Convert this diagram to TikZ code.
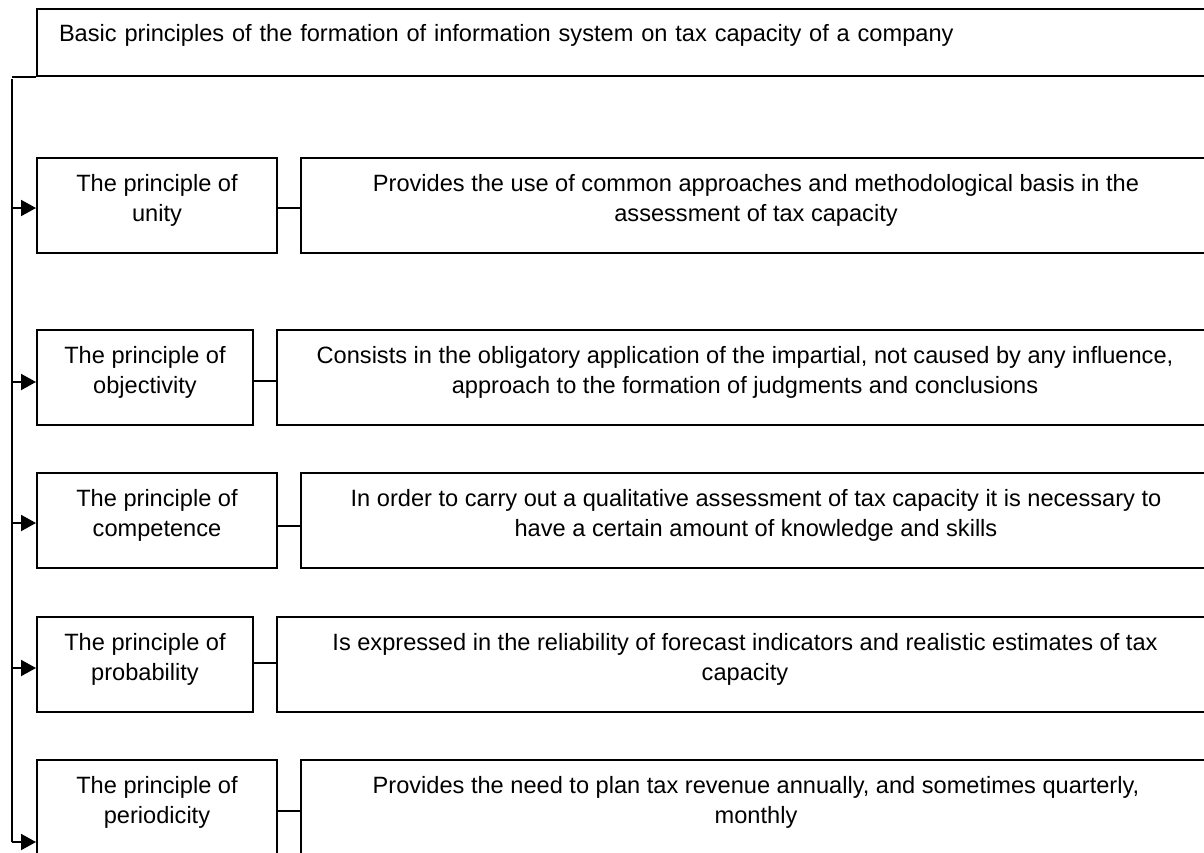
\documentclass[tikz,border=0pt]{standalone}
\usepackage{fontspec}
\setmainfont{Liberation Sans}
\usetikzlibrary{positioning,arrows.meta}
\tikzset{
	pbox/.style={draw, line width=1pt, align=center, inner sep=0pt, anchor=north west,
		minimum width=#1, minimum height=47.5pt, text height=31.5pt, text depth=16pt,
		font=\fontsize{11.8pt}{15pt}\selectfont},
	arr/.style={line width=1pt, -{Triangle[length=7.5pt,width=8pt]}},
	link/.style={line width=0.8pt}
}

\begin{document}
\begin{tikzpicture}[x=0.5pt, y=-0.5pt]
		\clip (0,0) rectangle (1204,852);
		
		% heading
		\node[draw, line width=1pt, anchor=north west, inner xsep=11pt, inner ysep=0pt,
			text width=580pt, align=left, minimum height=33.5pt, text height=16pt, text depth=17.5pt,
			font=\fontsize{11.8pt}{15pt}\selectfont] (head) at (36,8)
			{Basic principles of the formation of information system on tax capacity of a company};
		
		% principles
		\node[pbox=120pt] (p1) at (36,157) {The principle of\\unity};
		\node[pbox=108pt] (p2) at (36,329) {The principle of\\objectivity};
		\node[pbox=120pt] (p3) at (36,472) {The principle of\\competence};
		\node[pbox=108pt] (p4) at (36,616) {The principle of\\probability};
		\node[pbox=120pt] (p5) at (36,759) {The principle of\\periodicity};
		
		% descriptions
		\node[pbox=455pt] (d1) at (300,157) {Provides the use of common approaches and methodological basis in the\\assessment of tax capacity};
		\node[pbox=468pt] (d2) at (276,329) {Consists in the obligatory application of the impartial, not caused by any influence,\\approach to the formation of judgments and conclusions};
		\node[pbox=455pt] (d3) at (300,472) {In order to carry out a qualitative assessment of tax capacity it is necessary to\\have a certain amount of knowledge and skills};
		\node[pbox=468pt] (d4) at (276,616) {Is expressed in the reliability of forecast indicators and realistic estimates of tax\\capacity};
		\node[pbox=455pt] (d5) at (300,759) {Provides the need to plan tax revenue annually, and sometimes quarterly,\\monthly};
		
		% bus on the left
		\coordinate (bus) at (12,79);
		\draw[line width=1pt] (head.south west -| bus) -- (head.south west);
		\draw[line width=1pt] (bus) -- (12,842);
		\foreach \n/\y in {p1/208, p2/382, p3/523, p4/668, p5/842}
			\draw[arr] (12,\y) -- (\n.west |- 0,\y);
		
		\foreach \n/\m/\y in {p1/d1/208, p2/d2/381, p3/d3/526, p4/d4/663, p5/d5/811}
			\draw[link] (\n.east |- 0,\y) -- (\m.west |- 0,\y);
	\end{tikzpicture}
\end{document}
